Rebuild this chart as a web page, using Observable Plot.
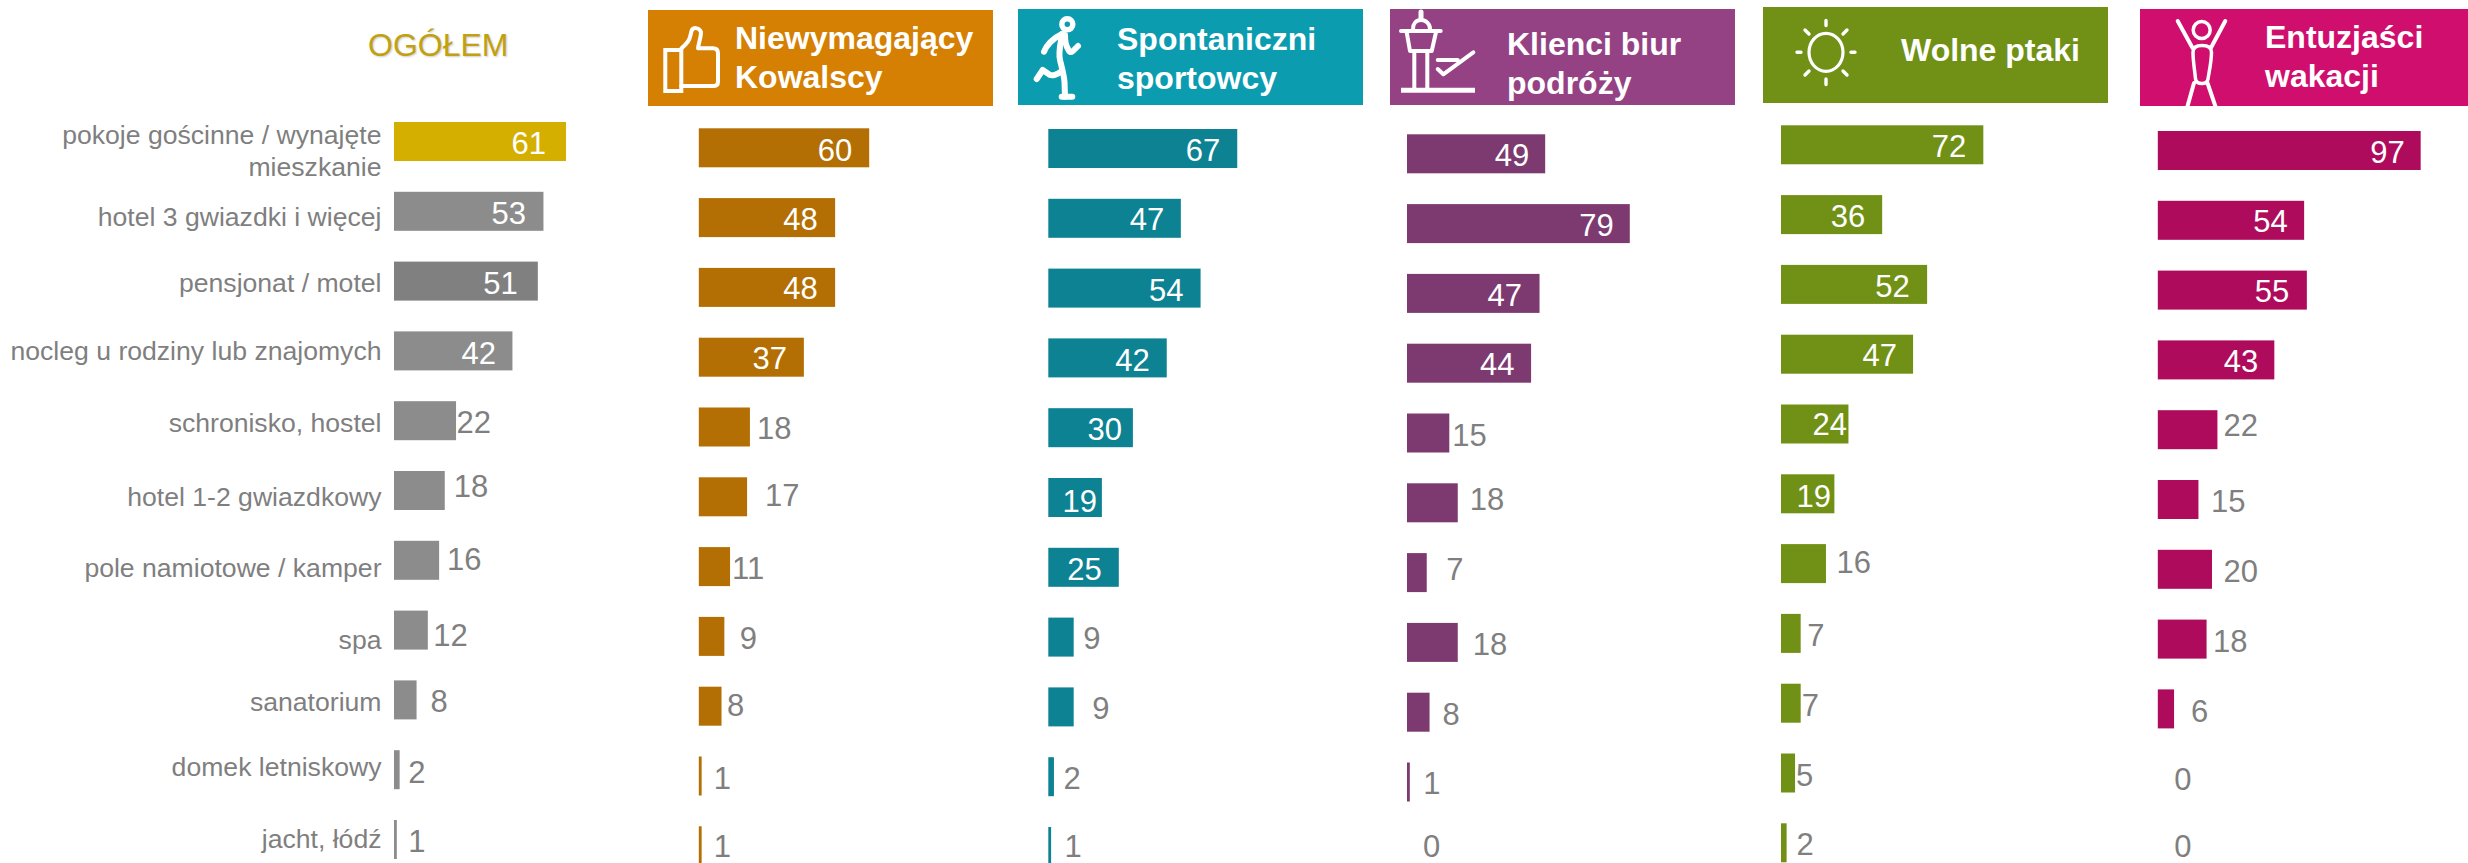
<!DOCTYPE html>
<html lang="pl">
<head>
<meta charset="utf-8">
<script src="https://cdn.jsdelivr.net/npm/d3@7"></script>
<script src="https://cdn.jsdelivr.net/npm/@observablehq/plot@0.6"></script>
<style>
  html, body { margin: 0; padding: 0; background: #fff; overflow: hidden; }
  #root { position: relative; width: 2468px; height: 863px; overflow: hidden; font-family: "Liberation Sans", Arial, sans-serif; }
  #root > svg, #root > .panel { position: absolute; }
  .panel svg { display: block; overflow: visible; }
  .head { position: absolute; color: #fff; font-weight: 700; font-size: 32px; line-height: 39px; white-space: pre; }
  #title { position: absolute; left: 368px; top: 25.7px; font-size: 32px; line-height: 38px; color: #C2A110; text-shadow: 1px 1px 2px rgba(0,0,0,.2); }
  #icons { left: 0; top: 0; }
</style>
</head>
<body>
<div id="root"></div>
<script>
// ---------- data ----------
const categories = [
  "pokoje gościnne / wynajęte\nmieszkanie", "hotel 3 gwiazdki i więcej", "pensjonat / motel",
  "nocleg u rodziny lub znajomych", "schronisko, hostel", "hotel 1-2 gwiazdkowy",
  "pole namiotowe / kamper", "spa", "sanatorium", "domek letniskowy", "jacht, łódź"
];
const ogolem     = [61, 53, 51, 42, 22, 18, 16, 12, 8, 2, 1];
const kowalscy   = [60, 48, 48, 37, 18, 17, 11, 9, 8, 1, 1];
const sportowcy  = [67, 47, 54, 42, 30, 19, 25, 9, 9, 2, 1];
const klienci    = [49, 79, 47, 44, 15, 18, 7, 18, 8, 1, 0];
const wolnePtaki = [72, 36, 52, 47, 24, 19, 16, 7, 7, 5, 2];
const entuzjasci = [97, 54, 55, 43, 22, 15, 20, 18, 6, 0, 0];
const overallTitle = "OGÓŁEM";
const headers = ["Niewymagający\nKowalscy", "Spontaniczni\nsportowcy", "Klienci biur\npodróży", "Wolne ptaki", "Entuzjaści\nwakacji"];

// ---------- layout and style (separate from the values) ----------
const ogolemFills = ["#D4AF00", "#8C8C8C", "#808080", "#8C8C8C", "#8C8C8C", "#8C8C8C", "#8C8C8C", "#8C8C8C", "#8C8C8C", "#8C8C8C", "#8C8C8C"];
const valueGrey = "#7F7F7F";
const rowStep = 69.8, barThickness = 39;
const pad = 1 - barThickness / rowStep;

// label nudges in pixels, relative to the bar end and the bar centre
const categoryDy = [7.5, 4, 0.5, -2, 1, 4.5, 5.5, 8, 0.7, -4.5, -2.5];
const panels = [
  {values: ogolem, fill: (d, i) => ogolemFills[i], left: 0, width: 640, x0: 394, k: 2.82, top: 122,
   dx: [-20.5, -18, -20.5, -17, 0, 8.5, 7.5, 5, 13.5, 8, 11],
   dy: [1, 1.7, 1.2, 1.5, 1, -4.7, -1.5, 4, 1, 1.5, 1.5], labels: true},
  {values: kowalscy, fill: "#B36F04", left: 640, width: 370, x0: 698.8, k: 2.84, top: 128.3,
   dx: [-17.5, -18, -18, -17.5, 6.5, 17.5, 1.5, 15, 5, 11.5, 11.5],
   dy: [1.3, 1.3, 0, 0, 0.5, -2, 1.2, 1.5, -1.8, 1.3, -0.5]},
  {values: sportowcy, fill: "#0D8293", left: 1010, width: 375, x0: 1048.3, k: 2.82, top: 129,
   dx: [-17.5, -17, -17.5, -17.5, -11.5, -5.5, -17.5, 9, 18, 9, 13],
   dy: [0.7, 0.7, 1, 1.3, 0.8, 2.7, 1.2, 0.5, 0.5, 1, -1.2]},
  {values: klienci, fill: "#7D3A70", left: 1385, width: 375, x0: 1407, k: 2.82, top: 134.3,
   dx: [-16.5, -16.5, -18, -17, 2.5, 11.5, 19, 14.5, 12.5, 13, 15.5],
   dy: [1.2, 1.3, 1.5, 0.2, 1.2, -4, -4.3, 1, 1, 0.8, -6.5]},
  {values: wolnePtaki, fill: "#709116", left: 1760, width: 375, x0: 1781, k: 2.81, top: 125.3,
   dx: [-17.5, -17.5, -18, -16.5, -2, -4, 10, 6, 0.5, 0.5, 9.5],
   dy: [1.2, 1.3, 1.3, 0.7, 0, 1.3, -1.7, 1, 1, 1.3, 0.3]},
  {values: entuzjasci, fill: "#AF0B5D", left: 2135, width: 333, x0: 2157.8, k: 2.71, top: 131,
   dx: [-16.5, -17, -18, -16.5, 5.5, 12, 11, 6, 16.5, 16, 16],
   dy: [0.7, 0.5, 0.7, 0.8, -5.3, 0.7, 1.2, 1.3, 1.5, 0, -3.2]}
];
const headerBoxes = [
  {l: 648, t: 10, w: 345, h: 96, c: "#D58003", tx: 735, ty: 19.4},
  {l: 1018, t: 9, w: 345, h: 96, c: "#0C9CAF", tx: 1117, ty: 20.4},
  {l: 1390, t: 9, w: 345, h: 96, c: "#944284", tx: 1507, ty: 25.1},
  {l: 1763, t: 7, w: 345, h: 96, c: "#709116", tx: 1901, ty: 31.1},
  {l: 2140, t: 9, w: 328, h: 97, c: "#CF0E6E", tx: 2265, ty: 17.7}
];

const root = document.getElementById("root");

// ---------- panels: one Observable Plot per segment ----------
for (const p of panels) {
  const r0 = p.top - pad * rowStep;
  const r1 = r0 + (categories.length + pad) * rowStep;
  const rows = p.values.map((v, i) => ({v, cat: categories[i], i}));
  const marks = [
    Plot.barX(rows, {x: "v", y: "cat", fill: typeof p.fill === "function" ? d => p.fill(d, d.i) : p.fill}),
    ...rows.map(r => {
      const inside = p.dx[r.i] < 0;
      return Plot.text([r], {
        x: "v", y: "cat", text: d => String(d.v),
        dx: p.dx[r.i], dy: p.dy[r.i] + 1,
        textAnchor: inside ? "end" : "start",
        fill: inside ? "#fff" : valueGrey, fontSize: 31
      });
    })
  ];
  if (p.labels) {
    marks.push(...rows.map(r => Plot.text([r], {
      x: () => 0, y: "cat", text: "cat", dx: -13, dy: categoryDy[r.i],
      textAnchor: "end", fill: valueGrey, fontSize: 26.6, lineHeight: 1.2
    })));
  }
  const chart = Plot.plot({
    width: p.width, height: 863, margin: 0,
    style: {fontFamily: '"Liberation Sans", Arial, sans-serif', background: "transparent", overflow: "visible"},
    x: {axis: null, type: "linear", domain: [0, 100], range: [p.x0 - p.left, p.x0 - p.left + 100 * p.k]},
    y: {axis: null, type: "band", domain: categories, range: [r0, r1], padding: pad, align: 0.5, round: false},
    marks
  });
  const holder = document.createElement("div");
  holder.className = "panel";
  holder.style.left = p.left + "px";
  holder.style.top = "0";
  holder.append(chart);
  root.append(holder);
}

// ---------- headers ----------
const title = document.createElement("div");
title.id = "title";
title.textContent = overallTitle;
root.append(title);
headerBoxes.forEach((b, i) => {
  const box = document.createElement("div");
  box.style.cssText = `position:absolute;left:${b.l}px;top:${b.t}px;width:${b.w}px;height:${b.h}px;background:${b.c}`;
  root.append(box);
  const t = document.createElement("div");
  t.className = "head";
  t.style.left = b.tx + "px";
  t.style.top = b.ty + "px";
  t.textContent = headers[i];
  root.append(t);
});

// ---------- pictograms ----------
const iconsNS = "http://www.w3.org/2000/svg";
const icons = document.createElementNS(iconsNS, "svg");
icons.setAttribute("id", "icons");
icons.setAttribute("width", 2468);
icons.setAttribute("height", 106);
icons.innerHTML = `
<g fill="none" stroke="#fff" stroke-width="4" stroke-linecap="round" stroke-linejoin="round">
  <path d="M665.3 50H681.3V91H665.3Z" stroke-linejoin="miter"/>
  <path d="M681.3 48.5C685 45 689 42 690 37L691.5 31C693 27 699 27 701 32C701 37 699 42 698 48.3H713C716 48.3 718 50 718 53.3V81.7C718 84.5 716 86 713 86H681.3"/>
  <circle cx="1067.3" cy="24.3" r="5.5" stroke-width="5.5"/>
  <g stroke-width="6">
    <path d="M1044 51.7C1046 46 1053 38 1062 34"/>
    <path d="M1062 34C1061 42 1058 52 1060 60C1062 68 1064 75 1064.5 82L1065 96.7"/>
    <path d="M1065 35C1065 40 1066 46 1068 49C1069 52 1071 53 1073 51L1078 46"/>
    <path d="M1061.7 96.7H1072.3"/>
    <path d="M1060.7 71.7C1058 74 1053 76 1050 75L1042.7 70L1036.7 79"/>
  </g>
  <path d="M1421 12V18" stroke-width="5"/>
  <path d="M1413 29C1413 24 1416 20 1421 20C1426 20 1430 24 1430 29"/>
  <path d="M1401 31H1440.7"/>
  <path d="M1406.7 32.3L1410 51H1431.7L1436 32.3M1414.3 51V88M1427.3 51V88"/>
  <path d="M1401 90.3H1475" stroke-width="5" stroke-linecap="butt"/>
  <path d="M1473.3 52.3L1443.3 74.3L1437.7 69M1437.7 60H1457.7"/>
  <ellipse cx="1826" cy="52.3" rx="17" ry="19" stroke-width="3.2"/>
  <path stroke-width="3.4" d="M1826 20.5V25.5M1826 79V84.5M1797 52.3H1801M1851 52.3H1855M1805 30L1809 34M1847 30L1843 34M1805 75L1809 71M1847 75L1843 71"/>
  <circle cx="2201.7" cy="30" r="8.5" stroke-width="3.5"/>
  <path d="M2177.7 21L2192.7 48.3M2225.3 21L2210.7 48.3"/>
  <path d="M2193 52C2193 47 2197 45.5 2202 45.5C2207 45.5 2211.5 47 2211.5 52C2211.5 62 2209 72 2208 79C2207.5 82.5 2205 83.5 2202 83.5C2199 83.5 2196 82.5 2195.5 79C2195 72 2193 62 2193 52Z" stroke-width="3.5"/>
  <path d="M2194 83L2187 108M2207.5 83L2216 108"/>
</g>`;
root.append(icons);
</script>
</body>
</html>
